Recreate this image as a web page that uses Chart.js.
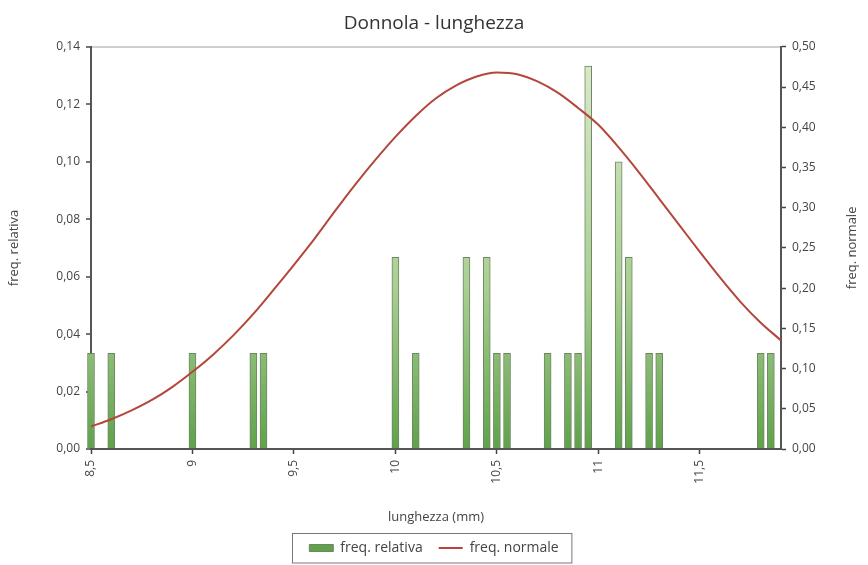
<!DOCTYPE html>
<html>
<head>
<meta charset="utf-8">
<script src="https://cdn.jsdelivr.net/npm/chart.js"></script>
<style>
  html, body { margin: 0; background: #fff; }
  #wrap { width: 868px; height: 565px; }
</style>
</head>
<body>
<div id="wrap"><canvas id="chart"></canvas></div>
<script>
// freq. relativa: lunghezza (mm) -> frequenza
const barX = [8.5, 8.6, 9.0, 9.3, 9.35, 10.0, 10.1, 10.35, 10.45, 10.5, 10.55, 10.75, 10.85, 10.9, 10.95, 11.1, 11.15, 11.25, 11.3, 11.8, 11.85];
const barY = [0.0333, 0.0333, 0.0333, 0.0333, 0.0333, 0.0667, 0.0333, 0.0667, 0.0667, 0.0333, 0.0333, 0.0333, 0.0333, 0.0333, 0.1333, 0.1, 0.0667, 0.0333, 0.0333, 0.0333, 0.0333];

// freq. normale (asse destro)
const curveX = [8.5, 8.6, 8.7, 8.8, 8.9, 9.0, 9.1, 9.2, 9.3, 9.4, 9.5, 9.6, 9.7, 9.8, 9.9, 10.0, 10.1, 10.2, 10.3, 10.4, 10.5, 10.6, 10.7, 10.8, 10.9, 11.0, 11.1, 11.2, 11.3, 11.4, 11.5, 11.6, 11.7, 11.8, 11.9];
const curveY = [0.028, 0.037, 0.048, 0.061, 0.077, 0.096, 0.117, 0.141, 0.168, 0.198, 0.229, 0.261, 0.295, 0.328, 0.359, 0.388, 0.414, 0.436, 0.452, 0.463, 0.468, 0.466, 0.457, 0.443, 0.424, 0.403, 0.375, 0.344, 0.311, 0.278, 0.245, 0.213, 0.183, 0.157, 0.135];

const xTicks = [8.5, 9, 9.5, 10, 10.5, 11, 11.5];

const FONT = '"Open Sans", "Noto Sans", sans-serif';
const comma = (v, d) => Number(v).toFixed(d).replace('.', ',');

// titolo asse destro, letto dal basso verso l'alto
const rightTitle = {
    id: 'rightTitle',
    afterDraw(chart) {
        const { ctx, chartArea } = chart;
        ctx.save();
        ctx.translate(chart.scales.y2.right - 16, (chartArea.top + chartArea.bottom) / 2);
        ctx.rotate(-Math.PI / 2);
        ctx.font = '13px ' + FONT;
        ctx.fillStyle = '#444';
        ctx.textAlign = 'center';
        ctx.textBaseline = 'middle';
        ctx.fillText('freq. normale', 0, 0);
        ctx.restore();
    }
};

// cornice intorno alla legenda
const legendBox = {
    id: 'legendBox',
    afterDraw(chart) {
        const boxes = chart.legend.legendHitBoxes;
        if (!boxes || !boxes.length) return;
        const left = Math.min(...boxes.map(b => b.left));
        const right = Math.max(...boxes.map(b => b.left + b.width));
        const top = Math.min(...boxes.map(b => b.top));
        const ctx = chart.ctx;
        ctx.save();
        ctx.strokeStyle = '#777';
        ctx.lineWidth = 1;
        const y0 = Math.round(top - 8) + 0.5;
        ctx.strokeRect(Math.round(left - 17) + 0.5, y0, right - left + 30, chart.height - 2 - y0);
        ctx.restore();
    }
};

const ctx = document.getElementById('chart');

new Chart(ctx, {
    type: 'bar',
    data: {
        datasets: [{
            type: 'bar',
            label: 'freq. relativa',
            data: barX.map((x, i) => ({ x: x, y: barY[i] })),
            yAxisID: 'y',
            barThickness: 7,
            borderWidth: 1,
            borderColor: '#6f8566',
            backgroundColor: c => {
                const { ctx, chartArea } = c.chart;
                if (!chartArea) return '#9cc884';
                const g = ctx.createLinearGradient(0, chartArea.top, 0, chartArea.bottom);
                g.addColorStop(0, '#dcebcd');
                g.addColorStop(0.6, '#a9cf92');
                g.addColorStop(1, '#5fa24a');
                return g;
            },
            pointStyle: 'rect',
            clip: false,
            order: 2
        }, {
            type: 'line',
            label: 'freq. normale',
            data: curveX.map((x, i) => ({ x: x, y: curveY[i] })),
            yAxisID: 'y2',
            borderColor: '#b4463c',
            backgroundColor: '#b4463c',
            borderWidth: 2,
            pointRadius: 0,
            cubicInterpolationMode: 'monotone',
            pointStyle: 'line',
            order: 1
        }]
    },
    options: {
        responsive: true,
        maintainAspectRatio: false,
        animation: false,
        layout: { padding: { top: 0, right: 0, bottom: 0, left: 0 } },
        scales: {
            x: {
                type: 'linear',
                offset: false,
                min: 8.5,
                max: 11.9,
                afterBuildTicks: s => { s.ticks = xTicks.map(v => ({ value: v })); },
                afterFit: s => { s.height = 76; },
                ticks: {
                    minRotation: 90,
                    maxRotation: 90,
                    padding: 6,
                    color: '#444',
                    font: { family: FONT, size: 12 },
                    callback: v => String(v).replace('.', ',')
                },
                grid: { offset: false, drawOnChartArea: false, tickLength: 5, tickColor: '#444', tickWidth: 1.5 },
                border: { color: '#555', width: 2 },
                title: {
                    display: true,
                    text: 'lunghezza (mm)',
                    color: '#444',
                    font: { family: FONT, size: 13 },
                    padding: { top: 0, bottom: 0 }
                }
            },
            y: {
                position: 'left',
                min: 0,
                max: 0.14,
                afterFit: s => { s.width = 91; },
                ticks: {
                    stepSize: 0.02,
                    padding: 6,
                    color: '#444',
                    font: { family: FONT, size: 12 },
                    callback: v => comma(v, 2)
                },
                grid: {
                    color: c => (c.tick && Math.abs(c.tick.value - 0.14) < 1e-6) ? '#cfcfcf' : 'rgba(0,0,0,0)',
                    lineWidth: 2,
                    tickLength: 5,
                    tickColor: '#444',
                    tickWidth: 1.5
                },
                border: { color: '#555', width: 2 },
                title: {
                    display: true,
                    text: 'freq. relativa',
                    color: '#444',
                    font: { family: FONT, size: 13 },
                    padding: { top: 6, bottom: 0 }
                }
            },
            y2: {
                position: 'right',
                min: 0,
                max: 0.5,
                afterFit: s => { s.width = 87; },
                ticks: {
                    stepSize: 0.05,
                    padding: 6,
                    color: '#444',
                    font: { family: FONT, size: 12 },
                    callback: v => comma(v, 2)
                },
                grid: { drawOnChartArea: false, tickLength: 5, tickColor: '#444', tickWidth: 1.5 },
                border: { color: '#555', width: 2 }
            }
        },
        plugins: {
            title: {
                display: true,
                text: 'Donnola - lunghezza',
                color: '#333',
                font: { family: FONT, size: 19, weight: 'normal' },
                padding: { top: 12, bottom: 12 }
            },
            legend: {
                position: 'bottom',
                labels: {
                    usePointStyle: true,
                    pointStyleWidth: 24,
                    boxHeight: 7,
                    padding: 16,
                    color: '#444',
                    font: { family: FONT, size: 14 },
                    sort: (a, b) => a.datasetIndex - b.datasetIndex
                }
            },
            tooltip: { enabled: false }
        }
    },
    plugins: [rightTitle, legendBox]
});
</script>
</body>
</html>
